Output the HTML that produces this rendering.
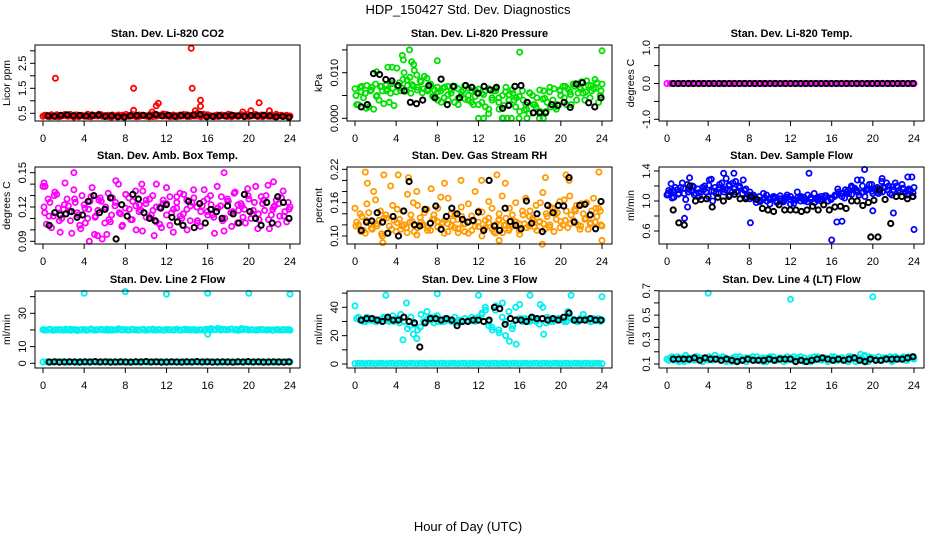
<!DOCTYPE html>
<html><head><meta charset="utf-8"><style>
html,body{margin:0;padding:0;background:#fff;}
svg{display:block;font-family:"Liberation Sans",Arial,sans-serif;}
</style></head><body>
<svg id="chart" width="936" height="540" viewBox="0 0 936 540" xmlns="http://www.w3.org/2000/svg">
<text x="468" y="14" font-size="13" text-anchor="middle">HDP_150427  Std. Dev. Diagnostics</text>
<text x="468" y="531" font-size="13" text-anchor="middle">Hour of Day (UTC)</text>
<g id="panels"></g>
</svg>
<script>
// ---------- data ----------
const hourTicks = [0,4,8,12,16,20,24];
const titles = ["Stan. Dev. Li-820 CO2","Stan. Dev. Li-820 Pressure","Stan. Dev. Li-820 Temp.","Stan. Dev. Amb. Box Temp.","Stan. Dev. Gas Stream RH","Stan. Dev. Sample Flow","Stan. Dev. Line 2 Flow","Stan. Dev. Line 3 Flow","Stan. Dev. Line 4 (LT) Flow"];
const yTitles = ["Licor ppm","kPa","degrees C","degrees C","percent","ml/min","ml/min","ml/min","ml/min"];

// P1 CO2
const p1_red = [0.38,0.42,0.36,0.40,0.44,0.37,0.41,0.39,0.45,0.35,0.43,0.40,0.38,0.46,0.36,0.41,0.39,0.44,0.37,0.42,0.35,0.40,0.43,0.38,0.36,0.41,0.45,0.39,0.37,0.42,0.40,0.36,0.44,0.38,0.41,0.47,0.39,0.36,0.43,0.40,0.38,0.45,0.37,0.42,0.39,0.50,0.36,0.41,0.44,0.38,0.40,0.37,0.43,0.39,0.46,0.36,0.41,0.38,0.44,0.40,0.37,0.42,0.45,0.39,0.36,0.43,0.41,0.38,0.46,0.40,0.37,0.42,0.39];
const p1_red2 = [0.42,0.37,0.44,0.39,0.36,0.41,0.45,0.38,0.40,0.43,0.36,0.42,0.39,0.37,0.44,0.40,0.46,0.38,0.41,0.36,0.43,0.39,0.37,0.42,0.45,0.38,0.40,0.36,0.43,0.41,0.38,0.44,0.37,0.40,0.42,0.39,0.45,0.41,0.38,0.36,0.43,0.40,0.44,0.37,0.41,0.39,0.42,0.46,0.38,0.40,0.36,0.43,0.39,0.41,0.37,0.44,0.40,0.38,0.42,0.36,0.45,0.39,0.41,0.37,0.43,0.40,0.38,0.44,0.36,0.41,0.42,0.39,0.37];
const p1_xh = [1.2,8.8,8.8,10.6,11.0,11.2,14.4,14.5,14.8,15.3,15.3,19.4,20.2,21.0,22.0];
const p1_xv = [1.9,1.5,0.62,0.55,0.8,0.9,3.1,1.5,0.6,1.02,0.78,0.55,0.6,0.92,0.6];
const p1_black = [0.40,0.38,0.42,0.44,0.40,0.41,0.39,0.42,0.43,0.38,0.40,0.36,0.35,0.40,0.41,0.42,0.39,0.45,0.40,0.42,0.38,0.41,0.40,0.43,0.45,0.36,0.38,0.40,0.39,0.42,0.40,0.38,0.41,0.40,0.42,0.39,0.36,0.38,0.34];

// P2 Pressure
const p2_green = [0.0065,0.0030,0.0070,0.0055,0.0025,0.0068,0.0075,0.0040,0.0060,0.0072,0.0035,0.0066,0.0058,0.0078,0.0085,0.0060,0.0090,0.0070,0.0095,0.0082,0.0065,0.0088,0.0075,0.0050,0.0068,0.0060,0.0045,0.0070,0.0055,0.0035,0.0065,0.0050,0.0072,0.0040,0.0060,0.0048,0.0030,0.0055,0.0025,0.0065,0.0040,0.0060,0.0020,0.0050,0.0068,0.0030,0.0055,0.0045,0.0015,0.0040,0.0020,0.0055,0.0030,0.0045,0.0015,0.0060,0.0035,0.0025,0.0065,0.0030,0.0050,0.0045,0.0065,0.0030,0.0070,0.0055,0.0080,0.0040,0.0072,0.0060,0.0085,0.0035,0.0075];
const p2_green2 = [0.0030,0.0068,0.0045,0.0072,0.0060,0.0020,0.0050,0.0070,0.0032,0.0064,0.0055,0.0028,0.0070,0.0060,0.0100,0.0072,0.0055,0.0105,0.0068,0.0080,0.0092,0.0060,0.0070,0.0062,0.0040,0.0035,0.0068,0.0040,0.0062,0.0070,0.0030,0.0058,0.0042,0.0066,0.0035,0.0062,0.0055,0.0035,0.0060,0.0010,0.0045,0.0065,0.0035,0.0000,0.0058,0.0040,0.0062,0.0025,0.0000,0.0060,0.0030,0.0010,0.0050,0.0025,0.0000,0.0042,0.0015,0.0058,0.0040,0.0020,0.0062,0.0070,0.0030,0.0058,0.0075,0.0040,0.0068,0.0055,0.0082,0.0045,0.0065,0.0078,0.0050];
const p2_green3 = [0.0050,0.0058,0.0022,0.0062,0.0048,0.0070,0.0060,0.0076,0.0110,0.0066,0.0084,0.0074,0.0062,0.0056,0.0064,0.0048,0.0058,0.0066,0.0052,0.0070,0.0044,0.0062,0.0050,0.0030,0.0064,0.0052,0.0020,0.0060,0.0045,0.0028,0.0052,0.0040,0.0048,0.0018,0.0056,0.0030,0.0062,0.0044,0.0068,0.0025,0.0060,0.0070,0.0052,0.0076,0.0064,0.0058,0.0072,0.0066,0.0060];
const p2_xh = [2.1,3.2,3.6,4.6,4.7,5.3,5.5,5.7,8.0,16.0,24.0,12.0,12.5,14.4,14.8,15.2,16.7,18.3];
const p2_xv = [0.0102,0.0112,0.0112,0.0138,0.0128,0.0150,0.0124,0.0118,0.0126,0.0145,0.0148,0,0,0,0,0,0,0];
const p2_black = [0.0025,0.0030,0.0098,0.0096,0.0085,0.0082,0.0072,0.0060,0.0035,0.0032,0.0040,0.0072,0.0045,0.0086,0.0030,0.0070,0.0045,0.0072,0.0068,0.0055,0.0070,0.0062,0.0068,0.0022,0.0028,0.0070,0.0072,0.0035,0.0012,0.0012,0.0012,0.0030,0.0028,0.0035,0.0024,0.0075,0.0078,0.0034,0.0025,0.0045];

// P3 Li-820 Temp
const p3_mag = [0,0,0,0,0,0,0,0,0,0,0,0,0,0,0,0,0,0,0,0,0,0,0,0,0,0,0,0,0,0,0,0,0,0,0,0,0,0,0,0,0,0,0,0,0,0,0,0,0,0,0,0,0,0,0,0,0,0,0,0,0,0,0,0,0,0,0,0,0,0,0,0,0];
const p3_black = [0,0,0,0,0,0,0,0,0,0,0,0,0,0,0,0,0,0,0,0,0,0,0,0,0,0,0,0,0,0,0,0,0,0,0,0,0,0,0,0,0,0,0,0,0,0,0,0];

// P4 Amb Box Temp
const p4_mag = [0.138,0.105,0.124,0.112,0.131,0.098,0.118,0.127,0.108,0.135,0.115,0.101,0.122,0.110,0.129,0.096,0.117,0.125,0.106,0.132,0.113,0.121,0.140,0.103,0.119,0.128,0.109,0.134,0.116,0.099,0.123,0.111,0.130,0.107,0.120,0.126,0.137,0.104,0.118,0.124,0.112,0.131,0.100,0.121,0.128,0.108,0.116,0.135,0.113,0.122,0.097,0.119,0.129,0.110,0.125,0.103,0.133,0.117,0.121,0.106,0.127,0.114,0.138,0.109,0.123,0.130,0.101,0.118,0.126,0.112,0.134,0.107,0.120];
const p4_mag2 = [0.115,0.127,0.102,0.133,0.119,0.110,0.141,0.121,0.097,0.124,0.113,0.130,0.106,0.118,0.137,0.112,0.126,0.092,0.120,0.109,0.128,0.143,0.115,0.104,0.131,0.118,0.125,0.100,0.122,0.134,0.111,0.127,0.117,0.140,0.105,0.123,0.113,0.129,0.098,0.119,0.132,0.114,0.126,0.108,0.135,0.120,0.103,0.125,0.116,0.130,0.111,0.138,0.121,0.099,0.127,0.115,0.132,0.106,0.123,0.118,0.136,0.110,0.124,0.101,0.129,0.117,0.139,0.113,0.121,0.105,0.128,0.116,0.124];
const p4_mag3 = [0.120,0.112,0.130,0.108,0.122,0.116,0.127,0.104,0.119,0.125,0.111,0.128,0.118,0.107,0.124,0.114,0.131,0.109,0.121,0.117,0.126,0.113,0.120,0.102,0.123,0.115,0.129,0.110,0.118,0.124,0.106,0.121,0.127,0.113,0.119,0.108,0.125,0.116,0.122,0.111,0.130,0.117,0.114,0.126,0.109,0.120,0.123,0.112,0.118];
const p4_xh = [0.1,0.2,3.0,4.5,5.3,6.2,17.6,22.4,9.6,10.8];
const p4_xv = [0.141,0.138,0.150,0.090,0.095,0.096,0.150,0.142,0.140,0.095];
const p4_black = [0.104,0.115,0.113,0.114,0.116,0.111,0.113,0.125,0.130,0.115,0.118,0.128,0.092,0.122,0.112,0.131,0.127,0.115,0.110,0.108,0.119,0.122,0.111,0.107,0.104,0.125,0.102,0.123,0.106,0.118,0.116,0.110,0.121,0.114,0.106,0.131,0.116,0.110,0.104,0.124,0.106,0.129,0.124,0.110];

// P5 Gas Stream RH
const p5_org = [0.150,0.120,0.135,0.105,0.142,0.112,0.165,0.128,0.100,0.138,0.118,0.155,0.108,0.130,0.145,0.115,0.125,0.160,0.102,0.133,0.120,0.148,0.110,0.138,0.126,0.170,0.105,0.122,0.140,0.115,0.130,0.152,0.108,0.125,0.136,0.118,0.145,0.100,0.128,0.162,0.112,0.120,0.140,0.106,0.132,0.150,0.118,0.125,0.103,0.138,0.115,0.145,0.128,0.110,0.160,0.122,0.135,0.152,0.108,0.142,0.126,0.165,0.115,0.138,0.148,0.120,0.158,0.130,0.112,0.145,0.125,0.150,0.118];
const p5_org2 = [0.125,0.140,0.110,0.158,0.122,0.180,0.118,0.145,0.132,0.105,0.190,0.128,0.148,0.112,0.120,0.175,0.138,0.108,0.155,0.125,0.142,0.115,0.185,0.130,0.150,0.112,0.128,0.168,0.118,0.140,0.106,0.135,0.122,0.158,0.110,0.180,0.125,0.143,0.115,0.132,0.150,0.105,0.128,0.172,0.120,0.110,0.138,0.160,0.122,0.145,0.168,0.118,0.132,0.155,0.125,0.178,0.140,0.116,0.150,0.130,0.162,0.120,0.145,0.172,0.128,0.155,0.112,0.140,0.160,0.122,0.168,0.135,0.145];
const p5_org3 = [0.118,0.108,0.128,0.114,0.122,0.104,0.132,0.112,0.124,0.118,0.106,0.126,0.115,0.120,0.110,0.130,0.116,0.124,0.108,0.128,0.113,0.121,0.105,0.126,0.117,0.112,0.124,0.108,0.130,0.119,0.114,0.127,0.110,0.122,0.135,0.116,0.126,0.112,0.120,0.140,0.115,0.128,0.122,0.145,0.118,0.132,0.124,0.150,0.120];
const p5_xh = [1.0,1.2,2.8,4.2,5.2,6.0,8.7,10.3,12.3,13.8,14.6,18.5,18.2,20.5,20.8,23.7,24.0,2.7,14.0];
const p5_xv = [0.215,0.195,0.210,0.210,0.205,0.180,0.195,0.200,0.200,0.210,0.195,0.205,0.085,0.210,0.200,0.215,0.092,0.088,0.092];
const p5_black = [0.110,0.125,0.127,0.142,0.125,0.105,0.135,0.100,0.145,0.198,0.120,0.118,0.148,0.123,0.154,0.112,0.135,0.150,0.140,0.130,0.125,0.128,0.143,0.110,0.200,0.118,0.110,0.150,0.126,0.119,0.113,0.163,0.123,0.140,0.108,0.155,0.142,0.155,0.154,0.205,0.125,0.155,0.157,0.138,0.113,0.162];

// P6 Sample Flow
const p6_blue = [1.08,1.12,1.05,1.15,1.18,1.10,1.22,1.14,1.08,1.16,1.12,1.20,1.06,1.13,1.18,1.10,1.24,1.15,1.20,1.12,1.26,1.18,1.10,1.16,1.08,1.04,0.98,1.06,1.02,1.08,0.96,1.03,1.00,1.07,0.99,1.05,1.02,0.97,1.04,1.06,1.00,1.08,1.02,0.98,1.05,1.03,1.07,1.00,1.04,1.08,1.12,1.06,1.15,1.10,1.18,1.13,1.08,1.20,1.14,1.22,1.10,1.16,1.12,1.18,1.24,1.10,1.15,1.20,1.12,1.16,1.08,1.14,1.18];
const p6_blue2 = [1.14,1.04,1.18,1.10,1.24,1.02,1.16,1.20,1.10,1.06,1.18,1.12,1.28,1.00,1.10,1.22,1.16,1.30,1.08,1.24,1.12,1.18,1.28,1.05,1.12,1.08,1.02,0.99,1.10,1.00,1.04,1.06,0.98,1.03,1.01,1.08,0.96,1.02,1.12,1.00,1.05,0.99,1.03,1.10,1.01,1.06,1.04,1.00,1.02,1.06,1.16,1.10,1.04,1.14,1.20,1.17,1.12,1.28,1.06,1.16,1.22,1.15,1.10,1.26,1.18,1.20,1.08,1.24,1.14,1.22,1.12,1.16,1.06];
const p6_blue3 = [1.10,1.14,1.09,1.17,1.12,1.19,1.11,1.15,1.21,1.13,1.18,1.12,1.22,1.16,1.20,1.14,1.03,1.06,1.01,1.04,1.02,1.05,1.00,1.03,1.06,1.01,1.04,1.02,1.05,1.03,1.00,1.07,1.04,1.08,1.10,1.12,1.09,1.14,1.11,1.16,1.13,1.18,1.12,1.15,1.19,1.13,1.17,1.14,1.11];
const p6_xh = [16.0,16.5,17.0,8.1,1.7,2.0,13.8,19.2,24.0,22.0,20.0,5.5,6.5,23.4,23.8,2.2,4.3,18.5,0.4,20.9];
const p6_xv = [0.48,0.72,0.73,0.71,0.77,0.92,1.37,1.42,0.62,0.84,0.87,1.37,1.37,1.32,1.32,1.31,1.29,1.28,1.23,1.30];
const p6_black = [0.88,0.71,0.68,1.20,1.00,1.02,1.03,0.92,1.05,1.00,1.06,1.09,1.03,1.03,1.06,1.02,0.90,0.88,0.86,0.95,0.88,0.88,0.88,0.86,0.88,0.93,0.88,0.95,0.88,0.92,0.93,0.90,1.00,1.00,0.94,0.98,1.01,1.15,1.02,0.70,1.06,1.06,1.03,1.06];
const p6_bxh = [19.8,20.5];
const p6_bxv = [0.52,0.52];

// P7 Line 2 Flow
const p7_cyan = [20.2,20.0,20.4,19.8,20.1,20.3,19.9,20.0,20.5,20.2,19.7,20.1,20.3,20.0,20.6,19.9,20.2,20.4,20.0,19.8,20.3,20.1,20.7,20.0,20.2,19.9,20.4,20.1,20.0,20.3,19.8,20.2,20.5,20.0,20.1,19.9,20.3,20.2,20.0,20.4,19.8,20.1,20.2,20.0,20.3,19.9,20.1,20.0,20.4,20.8,20.2,21.0,20.5,20.3,20.1,20.6,20.0,19.8,20.2,20.4,20.0,20.1,19.9,20.3,20.2,20.0,20.1,19.8,20.2,20.0,20.3,20.1,19.9];
const p7_cyan2 = [19.9,20.3,20.1,20.0,20.4,19.8,20.2,20.1,19.9,20.3,20.0,20.2,20.5,19.8,20.1,20.3,20.0,20.2,19.9,20.4,20.1,20.0,20.3,19.8,20.2,20.1,20.0,20.4,20.2,19.9,20.1,20.3,20.0,20.2,19.9,20.1,20.6,20.3,20.9,20.4,20.2,20.0,20.3,20.1,19.9,20.2,20.0,20.3];
const p7_cyanLow = [0.8,0.9,0.7,0.8,1.0,0.8,0.9,0.7,0.8,0.9,0.8,1.0,0.7,0.8,0.9,0.8,0.7,0.9,0.8,1.0,0.8,0.9,0.7,0.8,0.9,0.8,0.7,1.0,0.8,0.9,0.8,0.7,0.9,0.8,1.0,0.8,0.9,0.7,0.8,0.9,0.8,1.0,0.7,0.8,0.9,0.8,0.7,0.9,0.8,1.0,0.8,0.9,0.7,0.8,0.9,0.8,0.7,1.0,0.8,0.9,0.8,0.7,0.9,0.8,1.0,0.8,0.9,0.7,0.8,0.9,0.8,1.0,0.8];
const p7_xh = [4,8,12,16,20,24,16];
const p7_xv = [42,43,41.5,42,42,41.5,17.5];
const p7_black = [0.8,0.9,0.7,0.8,0.9,0.8,0.7,0.9,0.8,1.0,0.8,0.9,0.7,0.8,0.9,0.8,0.7,0.9,0.8,1.0,0.8,0.9,0.7,0.8,0.9,0.8,0.7,0.9,0.8,1.0,0.8,0.9,0.7,0.8,0.9,0.8,0.7,0.9,0.8,1.0,0.8,0.9,0.7,0.8,0.9,0.8,0.7,0.9];

// P8 Line 3 Flow
const p8_cyan = [41,33,31,30,32,31,30,31,32,31,30,34,31,29,17,43,27,21,18,26,30,37,33,29,34,31,30,32,31,30,29,31,32,30,31,32,33,35,38,27,24,41,22,43,30,16,27,14,42,32,31,30,32,31,42,21,33,30,31,32,31,30,37,32,31,30,31,32,31,30,31,32,31];
const p8_cyan2 = [32,31,30,33,31,32,30,31,33,32,31,30,32,35,30,25,33,28,24,35,30,32,31,33,30,30,32,31,30,33,31,30,32,31,33,30,31,36,40,30,26,38,24,33,20,37,25,40,32,30,32,31,33,30,28,40,29,32,30,31,32,31,30,33,31,30,32,35,31,30,32,31,30];
const p8_cyanZero = [0.3,0.5,0.4,0.3,0.5,0.4,0.3,0.5,0.4,0.3,0.5,0.4,0.3,0.5,0.4,0.3,0.5,0.4,0.3,0.5,0.4,0.3,0.5,0.4,0.3,0.5,0.4,0.3,0.5,0.4,0.3,0.5,0.4,0.3,0.5,0.4,0.3,0.5,0.4,0.3,0.5,0.4,0.3,0.5,0.4,0.3,0.5,0.4,0.3,0.5,0.4,0.3,0.5,0.4,0.3,0.5,0.4,0.3,0.5,0.4,0.3,0.5,0.4,0.3,0.5,0.4,0.3,0.5,0.4,0.3,0.5,0.4,0.3];
const p8_xh = [3,8,12,17,21,24];
const p8_xv = [48.5,49.5,48.5,48.5,48.5,47.5];
const p8_black = [31,32,32,31,30,33,31,31,33,30,29,12,29,32,32,31,32,31,27,30,30,31,31,30,31,40,39,28,32,31,31,30,33,32,32,31,32,31,33,36,31,31,31,32,31,31];

// P9 Line 4 (LT) Flow
const p9_cyan = [0.14,0.15,0.13,0.16,0.14,0.12,0.15,0.14,0.13,0.16,0.15,0.14,0.13,0.15,0.17,0.14,0.13,0.15,0.14,0.12,0.16,0.14,0.13,0.15,0.14,0.16,0.13,0.14,0.15,0.12,0.14,0.16,0.13,0.15,0.14,0.13,0.15,0.16,0.14,0.13,0.15,0.14,0.12,0.16,0.14,0.13,0.15,0.14,0.16,0.13,0.14,0.15,0.13,0.16,0.14,0.12,0.15,0.14,0.13,0.16,0.15,0.14,0.13,0.15,0.14,0.16,0.13,0.15,0.14,0.16,0.13,0.15,0.14];
const p9_cyan2 = [0.13,0.16,0.14,0.12,0.15,0.17,0.13,0.15,0.16,0.14,0.12,0.15,0.16,0.13,0.14,0.15,0.16,0.12,0.14,0.15,0.13,0.16,0.14,0.12,0.15,0.13,0.16,0.14,0.12,0.15,0.16,0.13,0.14,0.15,0.12,0.16,0.14,0.13,0.15,0.16,0.12,0.14,0.15,0.13,0.16,0.14,0.15,0.12,0.14,0.16,0.13,0.15,0.14,0.12,0.16,0.15,0.13,0.14,0.16,0.12,0.15,0.14,0.16,0.13,0.15,0.14,0.12,0.16,0.14,0.15,0.13,0.16,0.15];
const p9_xh = [4,12,20,18.8,19.2];
const p9_xv = [0.68,0.63,0.65,0.18,0.17];
const p9_black = [0.14,0.14,0.14,0.14,0.15,0.13,0.15,0.14,0.14,0.13,0.14,0.13,0.12,0.13,0.14,0.13,0.13,0.13,0.14,0.13,0.14,0.14,0.14,0.12,0.13,0.12,0.13,0.14,0.15,0.14,0.13,0.14,0.13,0.14,0.15,0.13,0.12,0.14,0.13,0.13,0.14,0.14,0.14,0.14,0.15,0.16];

// ---------- drawing ----------
const NS = "http://www.w3.org/2000/svg";
const root = document.getElementById("panels");
const rowBox = [[45,121],[167,244],[291,368]];
const colOff = [0,312,624];
const axisDefs = [
  {v1:0.5,p1:113.3,v2:2.5,p2:63.3,ticks:[0.5,1,1.5,2,2.5,3],labels:[0.5,1.5,2.5],fmt:1},
  {v1:0,p1:118.3,v2:0.010,p2:72.7,ticks:[0,0.005,0.010,0.015],labels:[0,0.010],fmt:3},
  {v1:1,p1:47.7,v2:-1,p2:119.3,ticks:[-1,-0.5,0,0.5,1],labels:[-1,0,1],fmt:1},
  {v1:0.09,p1:241.3,v2:0.15,p2:172.7,ticks:[0.09,0.10,0.11,0.12,0.13,0.14,0.15],labels:[0.09,0.12,0.15],fmt:2},
  {v1:0.10,p1:236,v2:0.22,p2:169.3,ticks:[0.10,0.12,0.14,0.16,0.18,0.20,0.22],labels:[0.10,0.16,0.22],fmt:2},
  {v1:0.6,p1:231,v2:1.4,p2:171,ticks:[0.6,0.8,1.0,1.2,1.4],labels:[0.6,1.0,1.4],fmt:1},
  {v1:0,p1:363.3,v2:30,p2:313.3,ticks:[0,10,20,30,40],labels:[0,10,30],fmt:0},
  {v1:0,p1:364,v2:40,p2:307.3,ticks:[0,10,20,30,40,50],labels:[0,20,40],fmt:0},
  {v1:0.1,p1:364,v2:0.7,p2:290.7,ticks:[0.1,0.2,0.3,0.4,0.5,0.6,0.7],labels:[0.1,0.3,0.5,0.7],fmt:1}
];
const CY="#00f0f0";
const seriesDefs = [
  [{v:p1_red,c:"#ff0000"},{v:p1_red2,c:"#ff0000",s:0.17,e:23.83},{h:p1_xh,v:p1_xv,c:"#ff0000"},{v:p1_black,c:"#000",s:0.5,e:23.9}],
  [{v:p2_green,c:"#00e000"},{v:p2_green2,c:"#00e000",s:0.17,e:23.83},{v:p2_green3,c:"#00e000",s:0.1,e:23.9},{h:p2_xh,v:p2_xv,c:"#00e000"},{v:p2_black,c:"#000",s:0.6,e:23.9}],
  [{v:p3_mag,c:"#ff00ff"},{v:p3_black,c:"#000",s:0.6,e:23.9}],
  [{v:p4_mag,c:"#ff00ff"},{v:p4_mag2,c:"#ff00ff",s:0.17,e:23.83},{v:p4_mag3,c:"#ff00ff",s:0.1,e:23.9},{h:p4_xh,v:p4_xv,c:"#ff00ff"},{v:p4_black,c:"#000",s:0.6,e:23.9}],
  [{v:p5_org,c:"#ff9a00"},{v:p5_org2,c:"#ff9a00",s:0.17,e:23.83},{v:p5_org3,c:"#ff9a00",s:0.1,e:23.9},{h:p5_xh,v:p5_xv,c:"#ff9a00"},{v:p5_black,c:"#000",s:0.6,e:23.9}],
  [{v:p6_blue,c:"#0000ff"},{v:p6_blue2,c:"#0000ff",s:0.17,e:23.83},{v:p6_blue3,c:"#0000ff",s:0.1,e:23.9},{h:p6_xh,v:p6_xv,c:"#0000ff"},{v:p6_black,c:"#000",s:0.6,e:23.9},{h:p6_bxh,v:p6_bxv,c:"#000"}],
  [{v:p7_cyan,c:CY},{v:p7_cyan2,c:CY,s:0.17,e:23.83},{v:p7_cyanLow,c:CY},{h:p7_xh,v:p7_xv,c:CY},{v:p7_black,c:"#000",s:0.6,e:23.9}],
  [{v:p8_cyan,c:CY},{v:p8_cyan2,c:CY,s:0.17,e:23.83},{v:p8_cyanZero,c:CY},{h:p8_xh,v:p8_xv,c:CY},{v:p8_black,c:"#000",s:0.6,e:23.9}],
  [{v:p9_cyan,c:CY},{v:p9_cyan2,c:CY,s:0.17,e:23.83},{h:p9_xh,v:p9_xv,c:CY},{v:p9_black,c:"#000",s:0.6,e:23.9}]
];

function mk(tag, attrs, parent){
  const el = document.createElementNS(NS, tag);
  for (const k in attrs) el.setAttribute(k, attrs[k]);
  parent.appendChild(el);
  return el;
}

for (let i=0;i<9;i++){
  const r = Math.floor(i/3), c = i%3, o = colOff[c];
  const [top,bot] = rowBox[r];
  const left = 35+o, right = 300+o;
  const ad = axisDefs[i];
  const xs = h => 43+o + h*(247/24);
  const ys = v => ad.p1 + (v-ad.v1)*(ad.p2-ad.p1)/(ad.v2-ad.v1);
  const g = mk("g",{},root);
  
  

  const t = mk("text",{x:(left+right)/2,y:top-8,"font-size":"11","font-weight":"bold","text-anchor":"middle"},g);
  t.textContent = titles[i];
  
  

  const yt = mk("text",{x:0,y:0,"font-size":"10.5","text-anchor":"middle",transform:`translate(${left-25},${(top+bot)/2}) rotate(-90)`},g);
  yt.textContent = yTitles[i];
  
  

  const pg = mk("g",{fill:"none"},g);
  
  
  seriesDefs[i].forEach(sd=>{
    const n = sd.v.length;
    const s = sd.s!==undefined?sd.s:0, e = sd.e!==undefined?sd.e:24;
    for (let k=0;k<n;k++){
      const h = sd.h ? sd.h[k] : (n>1 ? s + k*(e-s)/(n-1) : s);
      const cc = mk("circle",{cx:xs(h).toFixed(1),cy:ys(sd.v[k]).toFixed(1),r:"2.6",stroke:sd.c,"stroke-width":sd.c==="#000"?"2":"1.8"},pg);
      
      
    }
  });

  const bx = mk("rect",{x:left,y:top,width:right-left,height:bot-top,fill:"none",stroke:"#000","stroke-width":"1"},g);
  
  

  const xa = mk("g",{},g);
  
  
  mk("line",{x1:xs(0),x2:xs(24),y1:bot,y2:bot,stroke:"#000"},xa);
  hourTicks.forEach(h=>{
    mk("line",{x1:xs(h),x2:xs(h),y1:bot,y2:bot+5,stroke:"#000"},xa);
    const tl = mk("text",{x:xs(h),y:bot+21,"font-size":"11","text-anchor":"middle"},xa);
    tl.textContent = h;
    
    
  });

  const ya = mk("g",{},g);
  
  
  const tk = ad.ticks;
  mk("line",{x1:left,x2:left,y1:ys(tk[0]),y2:ys(tk[tk.length-1]),stroke:"#000"},ya);
  tk.forEach(v=>mk("line",{x1:left-5,x2:left,y1:ys(v),y2:ys(v),stroke:"#000"},ya));
  ad.labels.forEach(v=>{
    const yl = mk("text",{x:0,y:0,"font-size":"11","text-anchor":"middle",transform:`translate(${left-9},${ys(v)}) rotate(-90)`},ya);
    yl.textContent = v.toFixed(ad.fmt);
    
    
  });
}
</script>
</body></html>
